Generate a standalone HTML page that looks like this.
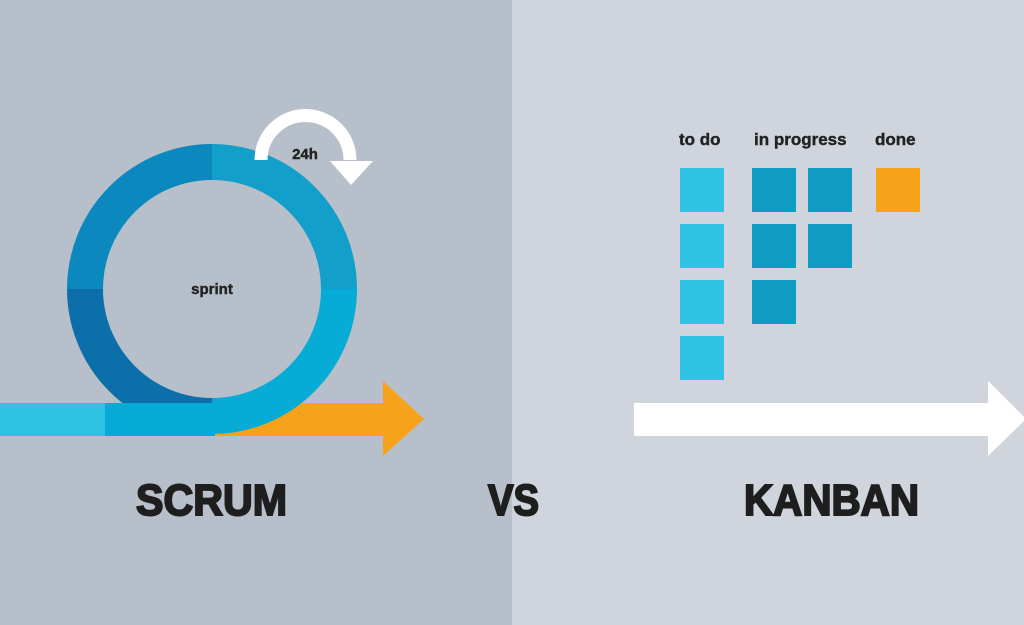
<!DOCTYPE html>
<html><head><meta charset="utf-8"><style>
html,body{margin:0;padding:0;}
body{width:1024px;height:625px;overflow:hidden;position:relative;background:#d0d4dc;font-family:"Liberation Sans",sans-serif;}
</style></head><body>
<svg width="1024" height="625" viewBox="0 0 1024 625" style="position:absolute;left:0;top:0">
<rect x="0" y="0" width="512" height="625" fill="#b7bfca"/>
<rect x="512" y="0" width="512" height="625" fill="#d0d4dc"/>
<!-- orange arrow -->
<rect x="200" y="403" width="185" height="33" fill="#f7a21b"/>
<polygon points="383,381 424,419 383,456" fill="#f7a21b"/>
<!-- circle quadrants -->
<g fill="none" stroke-width="36">
<path d="M85 289 A127 127 0 0 1 212 162" stroke="#0b88bd"/>
<path d="M212 162 A127 127 0 0 1 339 289" stroke="#129fc9"/>
<path d="M212 416 A127 127 0 0 1 85 289" stroke="#0d6fa9"/>
<path d="M339 289 A127 127 0 0 1 212 416" stroke="#06acd6"/>
</g>
<!-- band -->
<rect x="0" y="403" width="106" height="33" fill="#31c3e6"/>
<rect x="105" y="403" width="110" height="33" fill="#06acd6"/>
<text x="212" y="294" font-size="15" font-weight="bold" text-anchor="middle" fill="#222" stroke="#222" stroke-width="0.4">sprint</text>
<!-- 24h arrow -->
<path d="M261 160 A44 44 0 0 1 350 160" fill="none" stroke="#fff" stroke-width="13"/>
<polygon points="330,161 373,161 351,185" fill="#fff"/>
<text x="305" y="159" font-size="15" font-weight="bold" text-anchor="middle" fill="#222" stroke="#222" stroke-width="0.4">24h</text>
<!-- kanban -->
<g font-size="17" font-weight="bold" fill="#222" stroke="#222" stroke-width="0.4">
<text x="679" y="145">to do</text>
<text x="754" y="145">in progress</text>
<text x="875" y="145">done</text>
</g>
<g fill="#31c3e6">
<rect x="680" y="168" width="44" height="44"/><rect x="680" y="224" width="44" height="44"/>
<rect x="680" y="280" width="44" height="44"/><rect x="680" y="336" width="44" height="44"/>
</g>
<g fill="#109cc4">
<rect x="752" y="168" width="44" height="44"/><rect x="808" y="168" width="44" height="44"/>
<rect x="752" y="224" width="44" height="44"/><rect x="808" y="224" width="44" height="44"/>
<rect x="752" y="280" width="44" height="44"/>
</g>
<rect x="876" y="168" width="44" height="44" fill="#f7a21b"/>
<rect x="634" y="403" width="356" height="33" fill="#fff"/>
<polygon points="988,381 1026,419 988,456" fill="#fff"/>
<!-- titles -->
<g font-size="44" font-weight="bold" fill="#1e1e1e" stroke="#1e1e1e" stroke-width="2">
<text x="136" y="515" textLength="151" lengthAdjust="spacingAndGlyphs">SCRUM</text>
<text x="488" y="515" textLength="51" lengthAdjust="spacingAndGlyphs">VS</text>
<text x="744" y="515" textLength="175" lengthAdjust="spacingAndGlyphs">KANBAN</text>
</g>
</svg>
</body></html>
